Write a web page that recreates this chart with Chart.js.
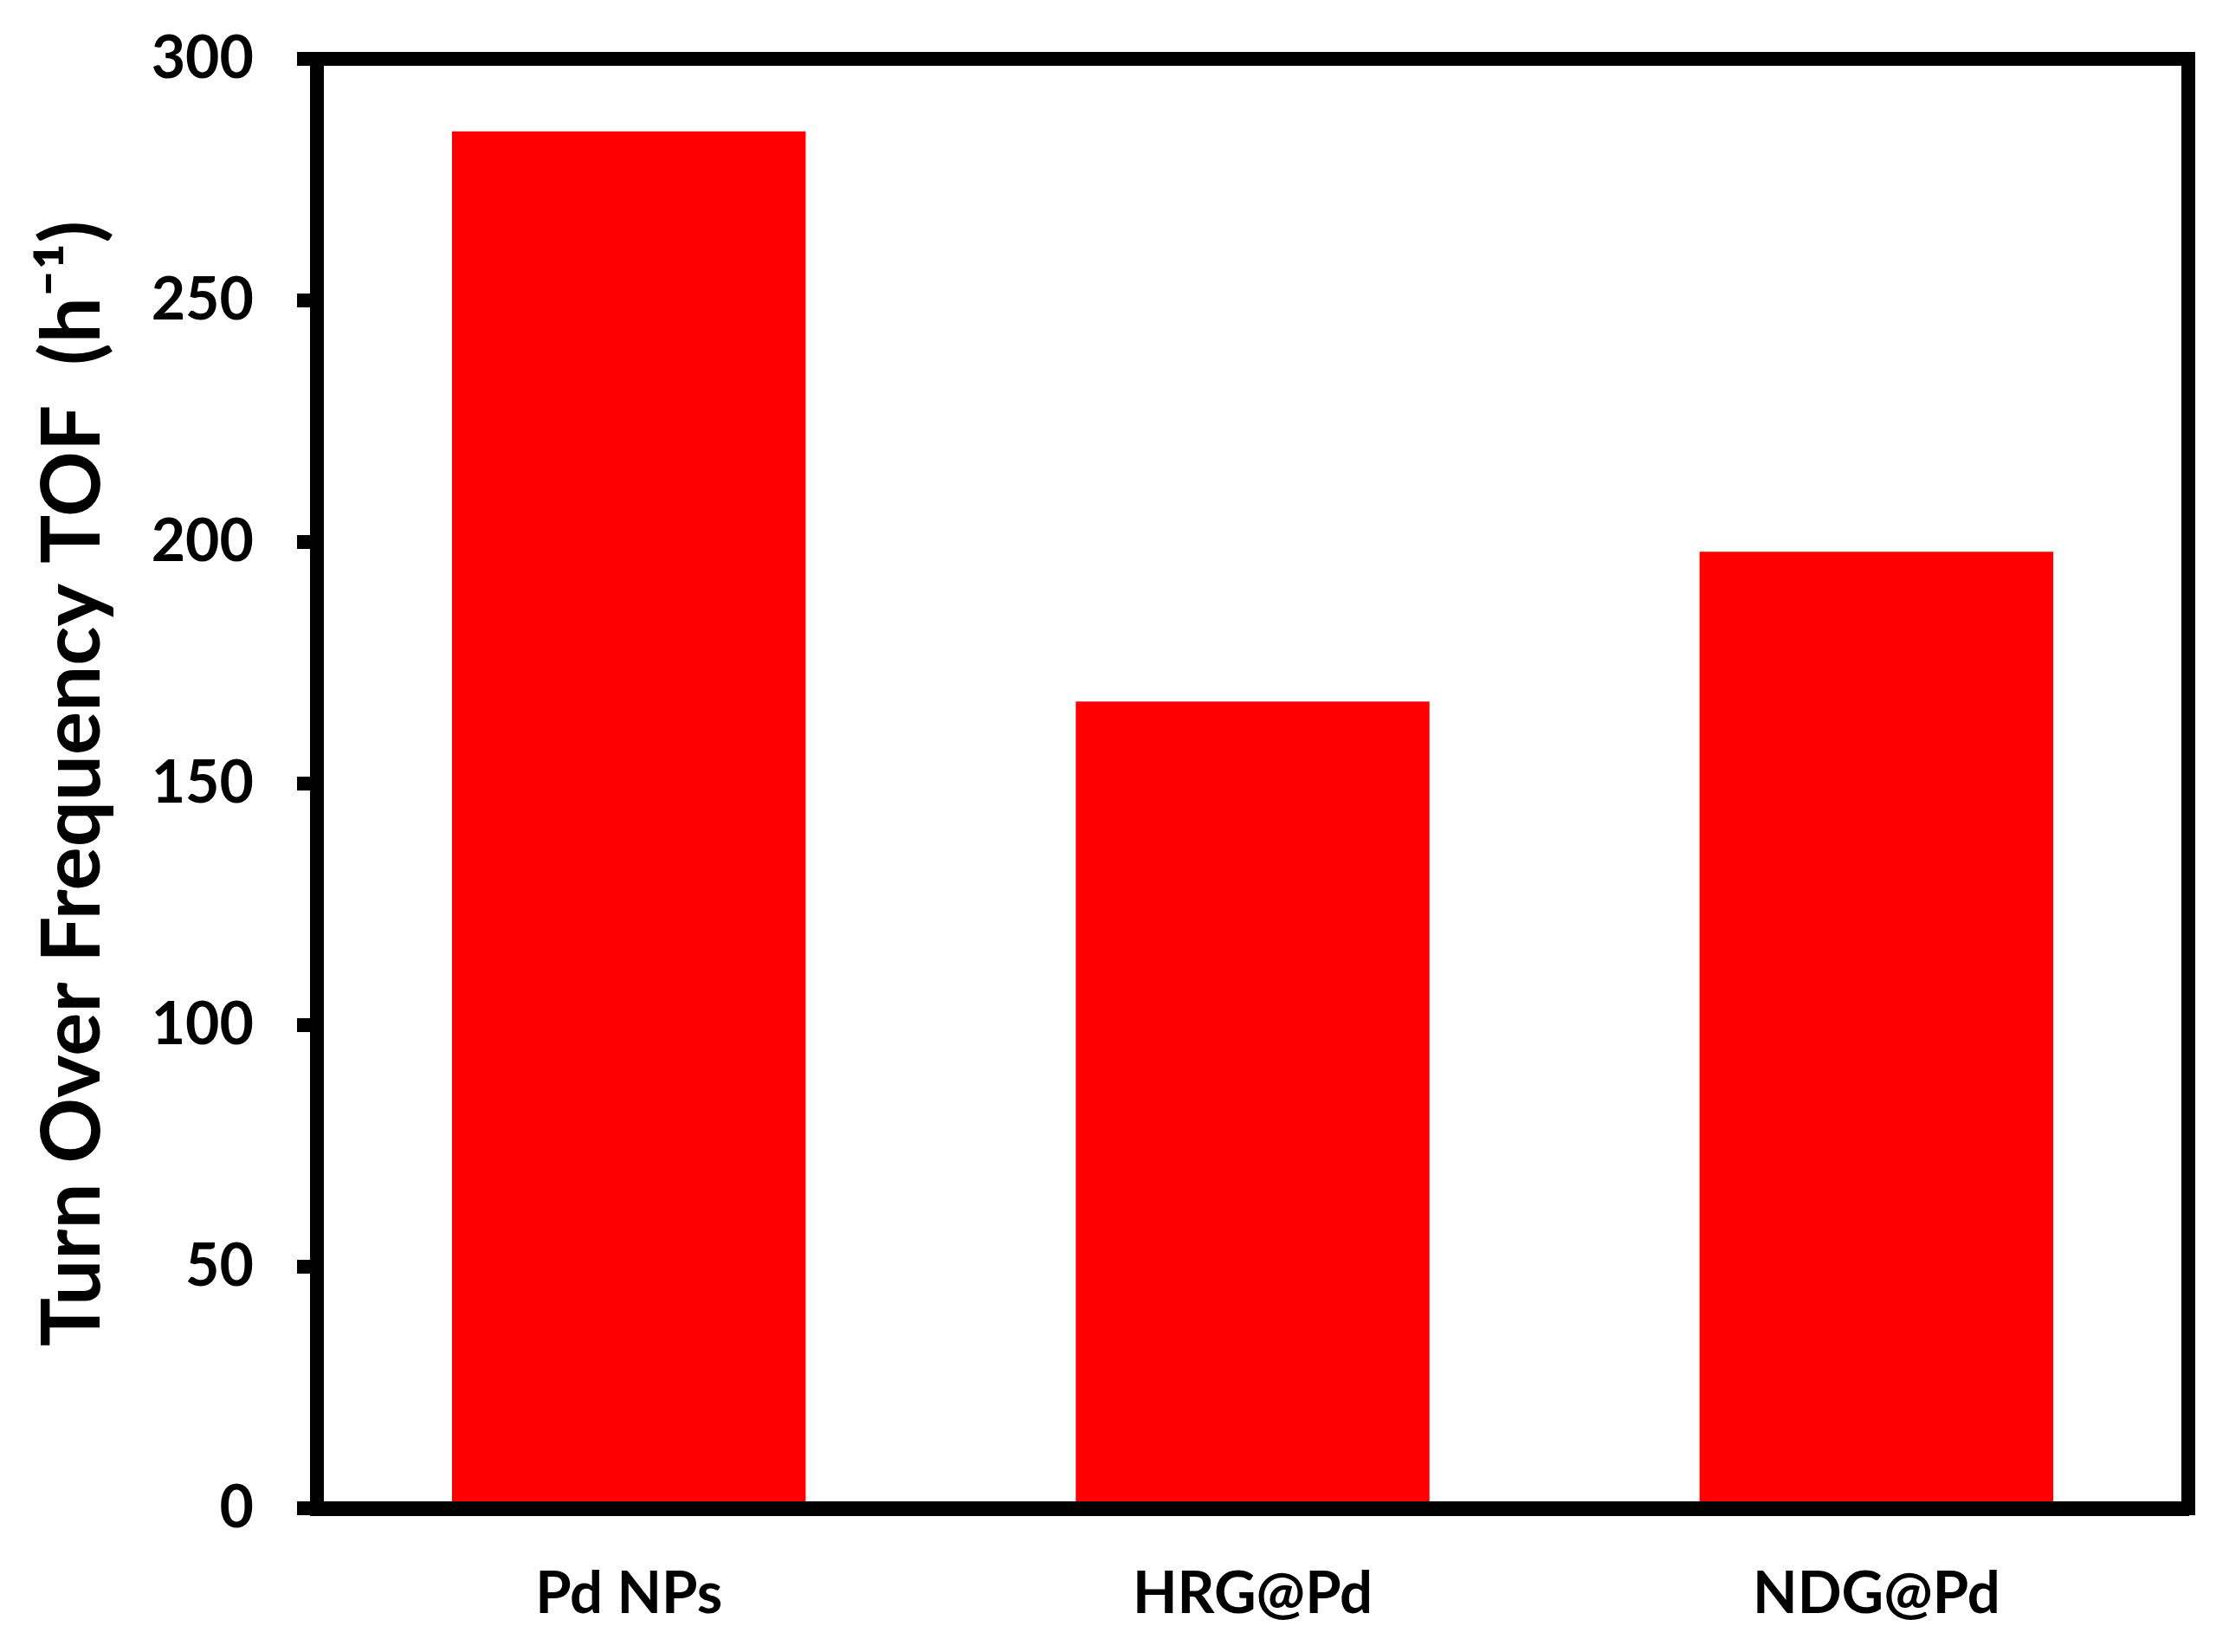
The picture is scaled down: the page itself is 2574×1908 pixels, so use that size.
<!DOCTYPE html>
<html lang="en">
<head>
  <meta charset="UTF-8" />
  <title>Turn Over Frequency</title>
  <script src="https://cdn.jsdelivr.net/npm/chart.js"></script>
  <style>
    html, body {
      margin: 0;
      padding: 0;
      background: #ffffff;
    }
    #wrap {
      width: 2574px;
      height: 1908px;
    }
  </style>
</head>
<body>
  <div id="wrap"><canvas id="tofChart"></canvas></div>

  <script>
    // data
    const catalysts = ["Pd NPs", "HRG@Pd", "NDG@Pd"];
    const tofValues = [285, 167, 198];
    const yTicks = [0, 50, 100, 150, 200, 250, 300];

    // box around the plot area (Chart.js only draws left/bottom axis lines)
    const frameBox = {
      id: "frameBox",
      afterDraw(chart) {
        const { ctx, chartArea } = chart;
        ctx.save();
        ctx.strokeStyle = "#000";
        ctx.lineWidth = 16;
        ctx.lineJoin = "miter";
        ctx.strokeRect(chartArea.left, chartArea.top,
          chartArea.right - chartArea.left, chartArea.bottom - chartArea.top);
        ctx.restore();
      }
    };

    new Chart(document.getElementById("tofChart").getContext("2d"), {
      type: "bar",
      data: {
        labels: catalysts,
        datasets: [{
          data: tofValues,
          backgroundColor: "#ff0000",
          borderWidth: 0,
          categoryPercentage: 1,
          barPercentage: 0.567
        }]
      },
      options: {
        responsive: true,
        maintainAspectRatio: false,
        animation: false,
        layout: { padding: { top: 68, right: 47, bottom: 0, left: 0 } },
        plugins: {
          legend: { display: false },
          tooltip: { enabled: false }
        },
        scales: {
          x: {
            grid: { display: false },
            border: { display: true, color: "#000", width: 17 },
            ticks: {
              color: "#000",
              padding: 51,
              font: { family: "Lato", weight: "bold", size: 67 }
            },
            afterFit: s => {
              s.height = 166;
              s.paddingLeft = 0;
              s.paddingRight = 0;
            }
          },
          y: {
            min: 0,
            max: 300,
            afterBuildTicks: s => { s.ticks = yTicks.map(v => ({ value: v })); },
            grid: {
              display: true,
              drawOnChartArea: false,
              drawTicks: true,
              tickLength: 23,
              lineWidth: 16,
              color: "#000"
            },
            border: { display: true, color: "#000", width: 16 },
            ticks: {
              color: "#000",
              padding: 50,
              font: { family: "Lato", weight: "bold", size: 68 }
            },
            title: {
              display: true,
              text: "Turn Over Frequency TOF  (h\u207B\u00B9)",
              color: "#000",
              padding: { top: 38, bottom: 0 },
              font: { family: "Lato", weight: "bold", size: 94, lineHeight: 1 }
            },
            afterFit: s => {
              s.width = 366;
              s.paddingTop = 0;
              s.paddingBottom = 0;
            }
          }
        }
      },
      plugins: [frameBox]
    });
  </script>
</body>
</html>
